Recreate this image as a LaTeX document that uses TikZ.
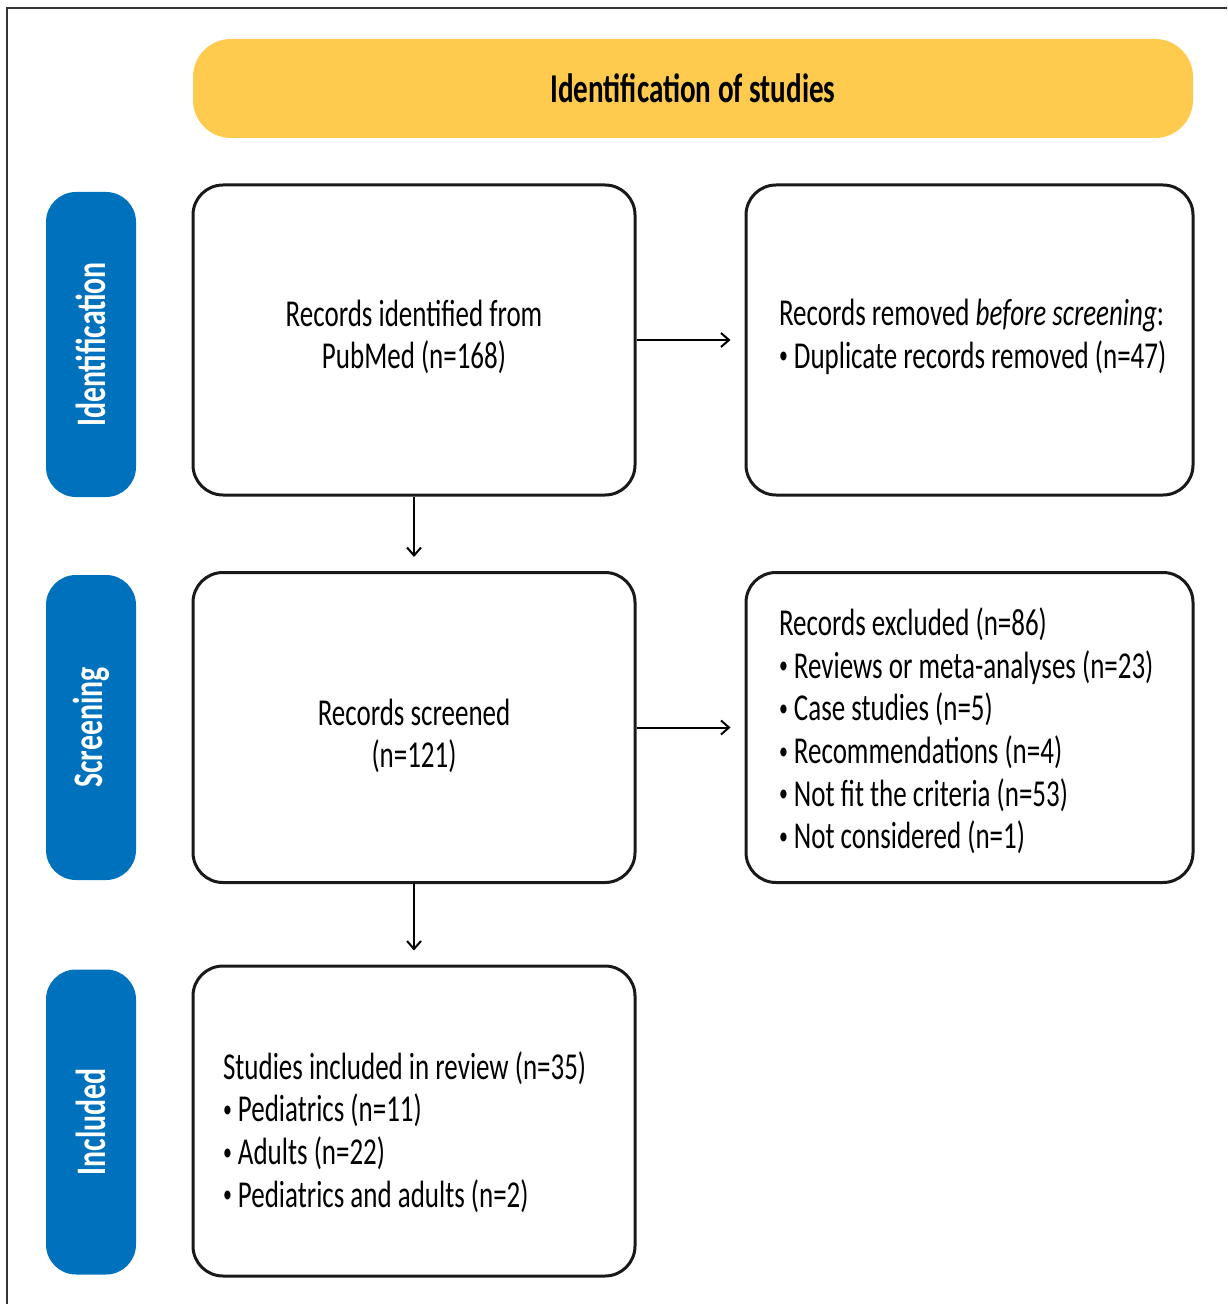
\documentclass[tikz,border=0pt]{standalone}
\usepackage{fontspec}
\setmainfont{Carlito}[FakeStretch=0.71]
\usetikzlibrary{arrows.meta}
\definecolor{bannerYellow}{RGB}{254,203,79}
\definecolor{phaseBlue}{RGB}{0,113,188}
\newcommand{\itembul}{\raisebox{0.12em}{\fontsize{12.5}{12.5}\selectfont\textbullet}}

\begin{document}
\begin{tikzpicture}[x=0.5pt, y=-0.5pt, ->, >={Straight Barb[length=4pt,width=7pt]}, line width=1pt,
    font=\fontsize{19}{21.3}\selectfont]
    \tikzstyle{banner}=[fill=bannerYellow,rounded corners=19pt,minimum width=500pt,minimum height=49.5pt,font=\fontsize{20.5}{22}\selectfont\bfseries]
    \tikzstyle{phase}=[fill=phaseBlue,rounded corners=15pt,rotate=90,minimum width=152.5pt,minimum height=45pt,text=white,font=\fontsize{21}{22}\selectfont\bfseries]
    \tikzstyle{box}=[draw=black!90,line width=1.5pt,rounded corners=15pt,minimum height=155pt]
    \tikzstyle{leftbox}=[box,minimum width=221pt]
    \tikzstyle{rightbox}=[box,minimum width=223.5pt]
    \tikzstyle{boxtext}=[inner sep=0pt,align=left,anchor=west]
    \useasboundingbox (0,0) rectangle (1227,1304);
    \draw[-,black!80] (7,1304) -- (7,8) -- (1227,8);
    % header and phases
    \node[banner]   (title)     at (693,88.5)   {Identification of studies};
    \node[phase]    (ph_id)     at (91,344.5)   {Identification};
    \node[phase]    (ph_scr)    at (91,727.5)   {Screening};
    \node[phase]    (ph_inc)    at (91,1122)    {Included};
    % flow boxes
    \node[leftbox]  (identified)  at (414,340)      {};
    \node[rightbox] (removed)     at (969.5,340)    {};
    \node[leftbox]  (screened)    at (414,727.5)    {};
    \node[rightbox] (excluded)    at (969.5,727.5)  {};
    \node[leftbox]  (included)    at (414,1121)     {};
    % box texts
    \node[align=center]  (identified_t)  at (414,337)  {Records identified from\\PubMed (n=168)};
    \node[boxtext]  (removed_t)  at (778,337)  {Records removed \textit{before screening}:\\\itembul{} Duplicate records removed (n=47)};
    \node[align=center]  (screened_t)  at (414,736)  {Records screened\\(n=121)};
    \node[boxtext]  (excluded_t)  at (778,731)  {Records excluded (n=86)\\
        \itembul{} Reviews or meta-analyses (n=23)\\
        \itembul{} Case studies (n=5)\\
        \itembul{} Recommendations (n=4)\\
        \itembul{} Not fit the criteria (n=53)\\
        \itembul{} Not considered (n=1)};
    \node[boxtext]  (included_t)  at (222,1132)  {Studies included in review (n=35)\\
        \itembul{} Pediatrics (n=11)\\
        \itembul{} Adults (n=22)\\
        \itembul{} Pediatrics and adults (n=2)};
    \path[shorten >=7pt]
    (identified)
      edge  (removed)
      edge  (screened)
    (screened)
      edge  (excluded)
      edge  (included);
\end{tikzpicture}
\end{document}
